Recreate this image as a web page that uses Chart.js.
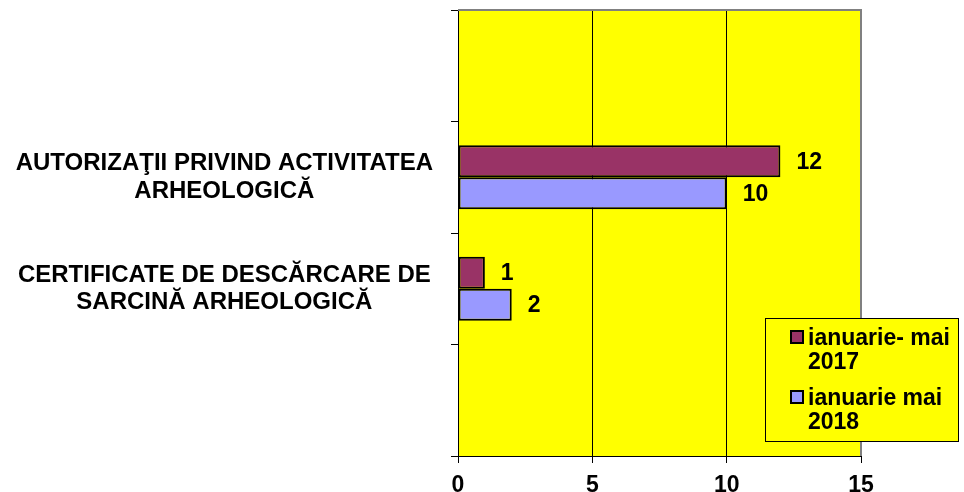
<!DOCTYPE html>
<html>
<head>
<meta charset="utf-8">
<script src="https://cdn.jsdelivr.net/npm/chart.js@4.4.0/dist/chart.umd.min.js"></script>
<style>
  html, body { margin: 0; padding: 0; background: #fff; }
  #wrap { width: 964px; height: 492px; }
</style>
</head>
<body>
<div id="wrap"><canvas id="chart"></canvas></div>
<script>
// ── data ──
const categories  = ['', ['AUTORIZAŢII PRIVIND ACTIVITATEA', 'ARHEOLOGICĂ'], ['CERTIFICATE DE DESCĂRCARE DE', 'SARCINĂ ARHEOLOGICĂ'], ''];
const seriesNames = ['ianuarie- mai 2017', 'ianuarie mai 2018'];
const values2017  = [null, 12, 1, null];
const values2018  = [null, 10, 2, null];
const xTicks      = [0, 5, 10, 15];

const FONT = 'Liberation Sans, Arial, sans-serif';
const BOLD = { family: FONT, size: 23, weight: 'bold', lineHeight: 1.15 };

// yellow plot area + grey top/right frame
const plotFrame = {
  id: 'plotFrame',
  beforeDraw(chart) {
    const { ctx, chartArea: a } = chart;
    ctx.save();
    ctx.fillStyle = '#ffff00';
    ctx.fillRect(a.left, a.top, a.right - a.left, a.bottom - a.top);
    ctx.restore();
  },
  afterDraw(chart) {
    const { ctx, chartArea: a } = chart;
    ctx.save();
    ctx.strokeStyle = '#808080';
    ctx.lineWidth = 2;
    ctx.beginPath();
    ctx.moveTo(a.left, a.top);
    ctx.lineTo(a.right, a.top);
    ctx.lineTo(a.right, a.bottom);
    ctx.stroke();
    ctx.restore();
  }
};

// value labels to the right of each bar
const barValues = {
  id: 'barValues',
  afterDatasetsDraw(chart) {
    const { ctx } = chart;
    ctx.save();
    ctx.font = `bold 23px ${FONT}`;
    ctx.fillStyle = '#000';
    ctx.textAlign = 'left';
    ctx.textBaseline = 'middle';
    chart.data.datasets.forEach((ds, i) => {
      chart.getDatasetMeta(i).data.forEach((bar, j) => {
        if (ds.data[j] == null) return;
        ctx.fillText(String(ds.data[j]), bar.x + 16, bar.y + 1);
      });
    });
    ctx.restore();
  }
};

// boxed legend sitting over the lower right of the plot
const boxLegend = {
  id: 'boxLegend',
  afterDraw(chart) {
    const { ctx, chartArea: a } = chart;
    const x = a.right - 96, y = a.bottom - 138, w = 193, h = 123;
    ctx.save();
    ctx.fillStyle = '#ffff00';
    ctx.fillRect(x, y, w, h);
    ctx.strokeStyle = '#000';
    ctx.lineWidth = 1;
    ctx.strokeRect(x + 0.5, y + 0.5, w, h);
    ctx.font = `bold 23px ${FONT}`;
    ctx.textBaseline = 'middle';
    ctx.textAlign = 'left';
    chart.data.datasets.forEach((ds, i) => {
      const top = y + 21 + i * 60;
      ctx.fillStyle = ds.backgroundColor;
      ctx.fillRect(x + 26, top - 8, 12, 12);
      ctx.strokeStyle = '#000';
      ctx.lineWidth = 2;
      ctx.strokeRect(x + 26, top - 8, 12, 12);
      const k = ds.label.lastIndexOf(' ');
      ctx.fillStyle = '#000';
      ctx.fillText(ds.label.slice(0, k), x + 43, top);
      ctx.fillText(ds.label.slice(k + 1), x + 43, top + 24);
    });
    ctx.restore();
  }
};

new Chart(document.getElementById('chart').getContext('2d'), {
  type: 'bar',
  data: {
    labels: categories,
    datasets: [
      { label: seriesNames[0], data: values2017, backgroundColor: '#993366', borderColor: '#000', borderWidth: 2, borderSkipped: false },
      { label: seriesNames[1], data: values2018, backgroundColor: '#9999ff', borderColor: '#000', borderWidth: 2, borderSkipped: false }
    ]
  },
  options: {
    indexAxis: 'y',
    responsive: true,
    maintainAspectRatio: false,
    animation: false,
    categoryPercentage: 0.576,
    barPercentage: 1,
    layout: { padding: { top: 10, right: 103, left: 0, bottom: 0 } },
    plugins: { legend: { display: false }, tooltip: { enabled: false } },
    scales: {
      x: {
        type: 'linear', min: 0, max: 15,
        afterBuildTicks: s => { s.ticks = xTicks.map(v => ({ value: v })); },
        afterFit: s => { s.height = 36; },
        grid: { color: '#000', lineWidth: 1, tickLength: 7 },
        border: { color: '#000', width: 1 },
        ticks: { color: '#000', font: BOLD, padding: 9, maxRotation: 0 }
      },
      y: {
        afterFit: s => { s.width = 458; s.paddingTop = 0; s.paddingBottom = 0; },
        grid: { drawOnChartArea: false, color: '#000', tickLength: 7 },
        border: { color: '#000', width: 1 },
        ticks: { color: '#000', font: { ...BOLD, size: 24 }, padding: 18, crossAlign: 'center' }
      }
    }
  },
  plugins: [plotFrame, barValues, boxLegend]
});
</script>
</body>
</html>
